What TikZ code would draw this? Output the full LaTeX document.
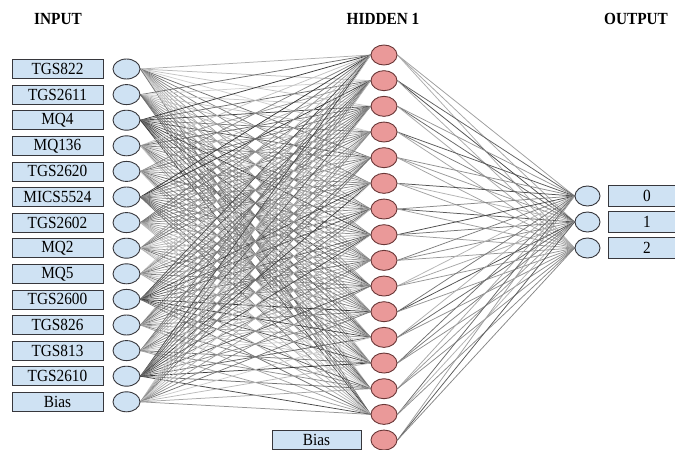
\documentclass[tikz,border=0pt]{standalone}
\usepackage{fontspec}
\setmainfont{Liberation Serif}[FakeStretch=0.9]
\usetikzlibrary{backgrounds,shapes.geometric}
\definecolor{inblue}{RGB}{207,226,243}
\definecolor{hidred}{RGB}{234,153,153}
\definecolor{hidedge}{RGB}{105,55,55}
\definecolor{boxedge}{RGB}{55,55,60}
\begin{document}
\begin{tikzpicture}[x=1pt,y=-1pt,
  labelbox/.style={draw=boxedge,fill=inblue,minimum width=91pt,minimum height=19pt,inner sep=0pt,line width=0.8pt,font=\fontsize{17}{17}\selectfont},
  outbox/.style={labelbox,minimum width=78pt,minimum height=21pt},
  inneuron/.style={ellipse,draw=boxedge,fill=inblue,minimum width=27pt,minimum height=20pt,inner sep=0pt,line width=0.9pt},
  hidneuron/.style={ellipse,draw=hidedge,fill=hidred,minimum width=26pt,minimum height=20pt,inner sep=0pt,line width=0.9pt},
  title/.style={font=\fontsize{17}{17}\selectfont\bfseries},
  wire/.style={line width=0.75pt}]
\useasboundingbox (0,0) rectangle (675,450);
\node[title] (tin) at (58,19) {INPUT};
\node[title] (thid) at (383,19) {HIDDEN 1};
\node[title] (tout) at (636,19) {OUTPUT};
\foreach \lab [count=\i] in {TGS822,TGS2611,MQ4,MQ136,TGS2620,MICS5524,TGS2602,MQ2,MQ5,TGS2600,TGS826,TGS813,TGS2610,Bias}{
  \node[labelbox] (lb-\i) at (57.5,{69+(\i-1)*25.6}) {\lab};
  \node[inneuron] (in-\i) at (126.5,{69+(\i-1)*25.6}) {};
}
\foreach \j in {1,...,16}{
  \node[hidneuron] (h-\j) at (384,{55+(\j-1)*25.67}) {};
}
\node[labelbox,minimum width=89pt] (hb) at (316.5,440) {Bias};
\foreach \k/\lab in {1/0,2/1,3/2}{
  \node[inneuron,minimum width=25pt] (o-\k) at (587.5,{196+(\k-1)*26}) {};
  \node[outbox] (ob-\k) at (647,{196+(\k-1)*26}) {\lab};
}
\begin{scope}[on background layer]
  \fill[white] (0,0) rectangle (675,450);
  \foreach \i in {1,...,14}{
    \foreach \j in {1,...,15}{
      \pgfmathsetmacro\g{(\i==3||\i==6||\i==10||\i==13) ? 45+mod(\i*17+\j*29+\i*\j*7,35) : 18+mod(\i*17+\j*29+\i*\j*7,40)}
      \draw[wire,draw=black!\g] (in-\i.east) -- (h-\j.west);
    }
  }
  \foreach \j in {1,...,16}{
    \foreach \k in {1,2,3}{
      \pgfmathsetmacro\g{28+mod(\j*13+\k*31+\j*\k*11,45)}
      \draw[wire,draw=black!\g] (h-\j.east) -- (o-\k.west);
    }
  }
\end{scope}
\end{tikzpicture}
\end{document}
